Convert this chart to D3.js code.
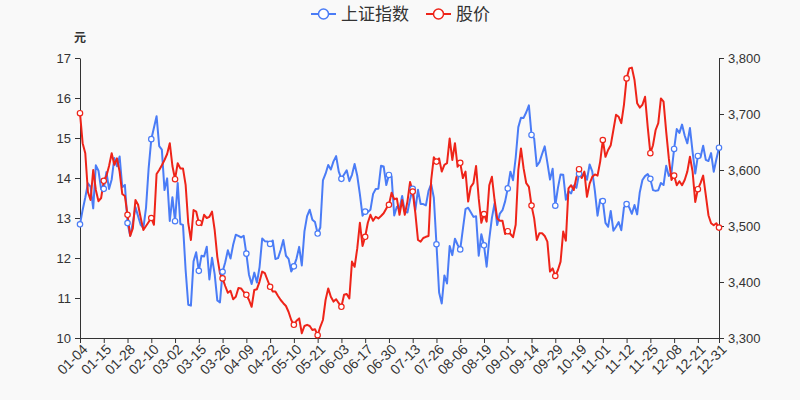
<!DOCTYPE html>
<html><head><meta charset="utf-8">
<script src="https://cdn.jsdelivr.net/npm/d3@7"></script>
<style>
html,body{margin:0;padding:0;background:#f9f9f9;}
svg{display:block;font-family:"Liberation Sans",Arial,"Noto Sans CJK SC",sans-serif;}
</style></head><body>
<svg id="chart" width="800" height="400"></svg>
<script>
const dates = [
"01-04","01-05","01-06","01-07","01-08","01-11","01-12","01-13","01-14","01-15","01-18","01-19","01-20","01-21","01-22","01-25","01-26","01-27","01-28","01-29",
"02-01","02-02","02-03","02-04","02-05","02-08","02-09","02-10","02-18","02-19","02-22","02-23","02-24","02-25","02-26",
"03-01","03-02","03-03","03-04","03-05","03-08","03-09","03-10","03-11","03-12","03-15","03-16","03-17","03-18","03-19","03-22","03-23","03-24","03-25","03-26","03-29","03-30","03-31",
"04-01","04-02","04-06","04-07","04-08","04-09","04-12","04-13","04-14","04-15","04-16","04-19","04-20","04-21","04-22","04-23","04-26","04-27","04-28","04-29","04-30",
"05-06","05-07","05-10","05-11","05-12","05-13","05-14","05-17","05-18","05-19","05-20","05-21","05-24","05-25","05-26","05-27","05-28","05-31",
"06-01","06-02","06-03","06-04","06-07","06-08","06-09","06-10","06-11","06-15","06-16","06-17","06-18","06-21","06-22","06-23","06-24","06-25","06-28","06-29","06-30",
"07-01","07-02","07-05","07-06","07-07","07-08","07-09","07-12","07-13","07-14","07-15","07-16","07-19","07-20","07-21","07-22","07-23","07-26","07-27","07-28","07-29","07-30",
"08-02","08-03","08-04","08-05","08-06","08-09","08-10","08-11","08-12","08-13","08-16","08-17","08-18","08-19","08-20","08-23","08-24","08-25","08-26","08-27","08-30","08-31",
"09-01","09-02","09-03","09-06","09-07","09-08","09-09","09-10","09-13","09-14","09-15","09-16","09-17","09-22","09-23","09-24","09-27","09-28","09-29","09-30",
"10-08","10-11","10-12","10-13","10-14","10-15","10-18","10-19","10-20","10-21","10-22","10-25","10-26","10-27","10-28","10-29",
"11-01","11-02","11-03","11-04","11-05","11-08","11-09","11-10","11-11","11-12","11-15","11-16","11-17","11-18","11-19","11-22","11-23","11-24","11-25","11-26","11-29","11-30",
"12-01","12-02","12-03","12-06","12-07","12-08","12-09","12-10","12-13","12-14","12-15","12-16","12-17","12-20","12-21","12-22","12-23","12-24","12-27","12-28","12-29","12-30","12-31"
];
const sseIndex = [
3502.96,3528.68,3550.88,3576.20,3570.11,3531.50,3608.34,3598.65,3565.90,3566.38,3596.22,3566.27,3583.09,3621.26,3606.75,3624.24,3569.43,3573.34,3505.18,3483.07,
3505.28,3533.68,3517.31,3501.86,3496.33,3532.44,3603.49,3655.09,3675.36,3696.17,3642.44,3636.36,3564.08,3585.05,3509.08,
3551.40,3508.59,3576.90,3503.49,3501.99,3421.41,3359.29,3357.74,3436.83,3453.08,3419.95,3446.73,3445.55,3463.07,3404.66,3443.44,3414.10,3367.06,3363.59,3418.33,3435.30,3456.68,3441.91,
3466.33,3484.39,3482.48,3479.63,3482.55,3450.68,3412.95,3396.47,3416.78,3398.99,3426.62,3477.55,3472.94,3472.19,3468.03,3474.17,3441.17,3442.61,3457.07,3474.90,3446.86,
3441.28,3418.87,3427.99,3441.85,3462.75,3429.54,3490.38,3517.62,3529.01,3510.96,3506.94,3486.56,3497.28,3581.34,3593.36,3608.85,3600.78,3615.48,
3624.71,3597.14,3584.22,3591.84,3599.54,3580.11,3591.40,3610.86,3589.75,3556.56,3518.33,3525.60,3525.10,3529.18,3557.41,3566.22,3566.65,3607.56,3606.37,3573.18,3591.20,
3588.78,3518.76,3534.32,3530.26,3553.72,3525.50,3524.09,3547.84,3566.52,3528.50,3564.59,3539.30,3539.12,3536.79,3562.82,3574.73,3550.40,3467.44,3381.18,3361.59,3411.72,3397.36,
3464.29,3447.99,3477.22,3466.56,3458.23,3494.63,3529.93,3532.62,3524.74,3516.30,3517.34,3446.98,3485.29,3465.55,3427.33,3477.13,3514.47,3540.38,3501.66,3522.16,3528.15,3543.94,
3567.10,3597.04,3581.73,3621.86,3676.59,3693.13,3693.00,3703.11,3715.37,3662.60,3656.22,3607.09,3613.97,3628.49,3642.22,3613.07,3582.83,3602.22,3536.29,3568.17,
3592.17,3591.71,3546.94,3561.76,3558.28,3572.37,3568.14,3593.15,3587.00,3594.78,3582.60,3609.86,3597.64,3562.31,3518.42,3547.34,
3544.48,3505.63,3498.54,3526.87,3491.57,3498.63,3507.00,3492.46,3532.79,3539.10,3533.30,3521.79,3537.37,3520.71,3560.37,3582.08,3589.09,3592.70,3584.18,3564.09,3562.70,3563.89,
3576.89,3573.18,3607.43,3589.31,3595.09,3637.57,3673.04,3666.35,3681.08,3661.53,3647.63,3675.02,3632.36,3593.60,3625.13,3622.62,3643.34,3618.05,3615.97,3630.11,3597.00,3619.19,3639.78
];
const stockPrice = [
15.62,14.87,14.62,13.65,13.45,14.2,13.7,13.42,13.5,13.93,
14.05,14.3,14.62,14.33,14.49,14.16,13.6,13.55,13.08,12.55,
12.74,13.45,13.33,13.0,12.7,12.8,12.9,13.0,12.83,14.1,
14.2,14.32,14.45,14.6,14.87,14.3,13.97,14.37,14.24,14.24,
13.83,12.87,12.45,13.2,13.16,12.88,12.82,13.08,13.0,13.03,
13.16,12.7,12.03,11.62,11.49,11.3,11.13,11.18,10.97,11.03,
11.25,11.24,11.15,11.08,10.95,10.78,11.2,11.22,11.41,11.66,
11.62,11.45,11.28,11.16,11.16,11.05,10.95,10.87,10.8,10.65,
10.45,10.33,10.43,10.49,10.12,10.3,10.33,10.3,10.2,10.22,
10.07,10.28,10.45,10.95,11.24,11.03,10.91,10.97,10.87,10.78,
11.08,11.1,10.99,11.91,11.78,12.24,12.88,12.3,12.53,12.88,
13.08,12.93,13.03,12.99,13.05,13.12,13.24,13.33,13.63,13.47,
13.49,13.08,13.45,13.08,13.41,13.9,13.66,13.12,12.45,12.41,
12.5,12.53,12.55,13.95,14.52,14.41,14.49,14.16,14.33,14.37,
14.99,14.45,14.87,14.28,14.38,14.0,14.16,13.41,13.78,13.87,
14.3,13.49,12.88,13.1,12.91,13.82,14.03,13.45,12.99,12.93,
12.93,12.6,12.67,12.6,12.52,12.83,14.2,14.74,14.24,13.87,
13.78,13.31,12.99,12.45,12.62,12.62,12.55,12.41,11.66,11.74,
11.55,11.7,11.91,12.66,12.43,13.74,13.82,13.7,14.02,14.22,
14.0,14.16,13.53,13.86,14.03,14.09,14.06,14.41,14.95,14.53,
14.7,14.82,15.2,15.58,15.53,15.37,15.83,16.49,16.74,16.76,
16.45,15.87,15.76,15.83,16.03,15.28,14.62,14.82,15.2,15.37,
15.99,15.91,15.16,14.49,13.95,14.06,13.82,13.92,13.82,13.95,
14.16,14.53,14.16,13.4,13.72,13.87,14.06,13.57,13.07,12.87,
12.82,12.87,12.76
];
const leftTicks = [10,11,12,13,14,15,16,17];
const rightTicks = [3300,3400,3500,3600,3700,3800];
const seriesNames = ["上证指数","股价"];
const seriesColors = ["#4a7cf6","#ee2419"];
const yUnit = "元";

const svg = d3.select("#chart");
const L = 80, R = 719, T = 58, B = 338;
const x = d3.scalePoint().domain(dates).range([L, R]);
const yL = d3.scaleLinear().domain([10,17]).range([B, T]);
const yR = d3.scaleLinear().domain([3300,3800]).range([B, T]);
const labelIdx = dates.map((d,i)=>i).filter(i => i % 9 === 0 || i === dates.length-1);

// axes
const gL = svg.append("g").attr("transform",`translate(${L},0)`)
  .call(d3.axisLeft(yL).tickValues(leftTicks).tickFormat(d3.format("d")).tickSize(5).tickSizeOuter(0).tickPadding(4));
const gR = svg.append("g").attr("transform",`translate(${R},0)`)
  .call(d3.axisRight(yR).tickValues(rightTicks).tickFormat(d3.format(",")).tickSize(5).tickSizeOuter(0).tickPadding(4));
const gB = svg.append("g").attr("transform",`translate(0,${B})`)
  .call(d3.axisBottom(x).tickValues(labelIdx.map(i=>dates[i])).tickSize(5).tickSizeOuter(0).tickPadding(3));
[gL,gR,gB].forEach(g=>{
  g.selectAll("path,line").attr("stroke","#333").attr("stroke-width",1);
  g.selectAll("text").attr("fill","#333").style("font-size","13px").style("font-family",'"Liberation Sans",Arial,sans-serif');
});
gB.selectAll("text").style("font-size","14px")
  .attr("text-anchor","end").attr("dx","0").attr("dy","0.6em")
  .attr("transform","rotate(-45)").attr("y",6).attr("x",-3);

svg.append("text").attr("x",L).attr("y",42).attr("text-anchor","middle")
  .attr("fill","#333").style("font-size","12px").style("font-weight","bold")
  .style("font-family",'"Noto Sans CJK SC",sans-serif').text(yUnit);

// lines
const series = [
  {vals: sseIndex, y: yR, color: seriesColors[0]},
  {vals: stockPrice, y: yL, color: seriesColors[1]}
];
series.forEach(s=>{
  const line = d3.line().x((d,i)=>x(dates[i])).y(d=>s.y(d));
  svg.append("path").datum(s.vals).attr("d",line).attr("fill","none")
    .attr("stroke",s.color).attr("stroke-width",2).attr("stroke-linejoin","round");
});
series.forEach(s=>{
  svg.append("g").selectAll("circle").data(labelIdx).join("circle")
    .attr("cx",i=>x(dates[i])).attr("cy",i=>s.y(s.vals[i])).attr("r",2.7)
    .attr("fill","#fff").attr("stroke",s.color).attr("stroke-width",1.2);
});

// legend
const legendItems = [{x:311, name:seriesNames[0], color:seriesColors[0]},{x:426, name:seriesNames[1], color:seriesColors[1]}];
legendItems.forEach(it=>{
  const g = svg.append("g").attr("transform",`translate(${it.x},14)`);
  g.append("line").attr("x1",0).attr("x2",25).attr("y1",0).attr("y2",0).attr("stroke",it.color).attr("stroke-width",2);
  g.append("circle").attr("cx",12.5).attr("cy",0).attr("r",5).attr("fill","#fff").attr("stroke",it.color).attr("stroke-width",1.5);
  g.append("text").attr("x",30).attr("y",0).attr("dy","0.35em").attr("fill","#333")
    .style("font-size","17px").style("font-family",'"Noto Sans CJK SC",sans-serif').text(it.name);
});
</script></body></html>
